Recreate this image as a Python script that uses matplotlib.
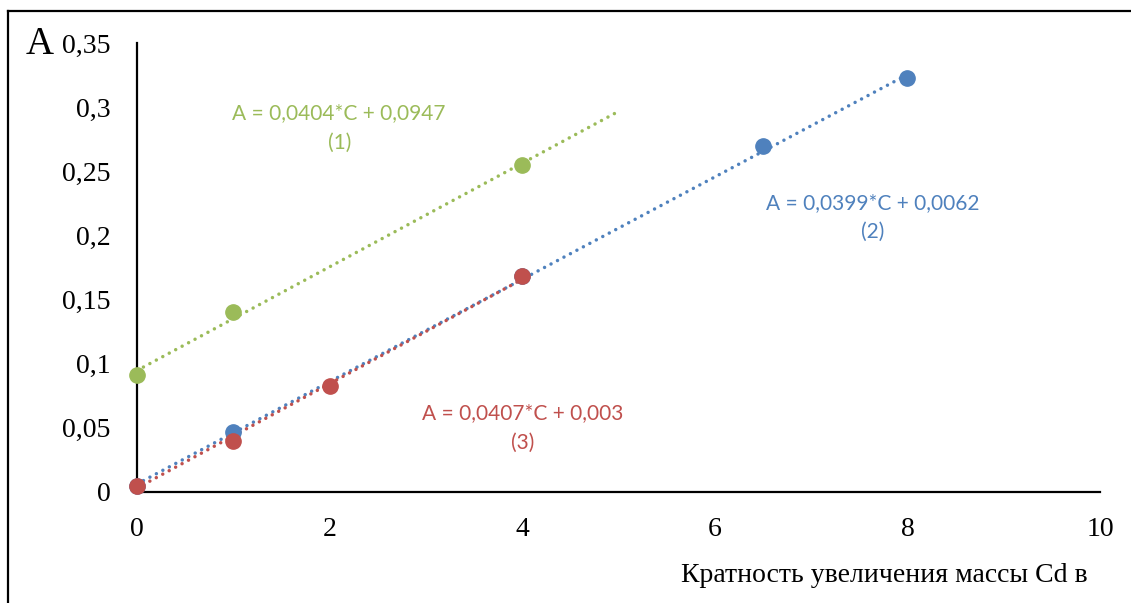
import matplotlib
matplotlib.use("Agg")
import matplotlib.pyplot as plt
from matplotlib.lines import Line2D
import numpy as np

# Measured absorbance A vs. multiplicity of Cd mass increase C
green_x = [0, 1, 4]
green_y = [0.091, 0.140, 0.255]
blue_x = [0, 1, 4, 6.5, 8]
blue_y = [0.005, 0.047, 0.168, 0.270, 0.323]
red_x = [0, 1, 2, 4]
red_y = [0.005, 0.040, 0.083, 0.168]

# Linear trendlines: (slope, intercept, x range)
green_fit = (0.0404, 0.0947, (0, 5))
blue_fit = (0.0399, 0.0062, (0, 8))
red_fit = (0.0407, 0.003, (0, 4))

green_label = "A = 0,0404*C + 0,0947\n(1)"
blue_label = "A = 0,0399*C + 0,0062\n(2)"
red_label = "A = 0,0407*C + 0,003\n(3)"

x_ticks = [0, 2, 4, 6, 8, 10]
y_ticks = [0, 0.05, 0.1, 0.15, 0.2, 0.25, 0.3, 0.35]
y_tick_labels = ["0", "0,05", "0,1", "0,15", "0,2", "0,25", "0,3", "0,35"]
x_title = "Кратность увеличения массы Cd в"
y_title = "A"

GREEN = "#9BBB59"
BLUE = "#4F81BD"
RED = "#C0504D"

serif = "Liberation Serif"
sans = "Lato"

fig = plt.figure(figsize=(11.31, 6.03), dpi=100)
ax = fig.add_axes([0.1211, 0.1841, 0.8516, 0.7446])

dot_style = dict(linestyle=(0, (0.01, 2.1)), dash_capstyle="round", linewidth=2.5)

for (xs, ys, fit, color) in [
    (green_x, green_y, green_fit, GREEN),
    (blue_x, blue_y, blue_fit, BLUE),
    (red_x, red_y, red_fit, RED),
]:
    k, b, (x0, x1) = fit
    fx = np.array([x0, x1], dtype=float)
    ax.plot(xs, ys, "o", color=color, markersize=11, clip_on=False, zorder=3)
    ax.plot(fx, k * fx + b, color=color, clip_on=False, zorder=2, **dot_style)

ax.set_xlim(0, 10)
ax.set_ylim(0, 0.35)
ax.set_xticks(x_ticks)
ax.set_xticklabels([str(t) for t in x_ticks])
ax.set_yticks(y_ticks)
ax.set_yticklabels(y_tick_labels)
ax.tick_params(axis="both", length=0, labelsize=20)
ax.tick_params(axis="y", pad=19)
ax.tick_params(axis="x", pad=18)
for lbl in ax.get_xticklabels() + ax.get_yticklabels():
    lbl.set_fontfamily(serif)

for side in ("top", "right"):
    ax.spines[side].set_visible(False)
for side in ("left", "bottom"):
    ax.spines[side].set_linewidth(1.6)
    ax.spines[side].set_color("black")

# Trendline equations
eq_style = dict(fontsize=15, family=sans, ha="center", va="center", linespacing=1.6)
ax.text(2.1, 0.284, green_label, color=GREEN, **eq_style)
ax.text(7.64, 0.214, blue_label, color=BLUE, **eq_style)
ax.text(4.0, 0.050, red_label, color=RED, **eq_style)

# Axis titles
fig.text(1088 / 1131, 1 - 576 / 603, x_title, ha="right", va="center",
         fontsize=20, family=serif)
fig.text(40 / 1131, 1 - 45 / 603, y_title, ha="center", va="center",
         fontsize=28, family=serif)

# Outer frame (top and left edges)
fig.add_artist(Line2D([8 / 1131, 1.0], [1 - 11 / 603, 1 - 11 / 603],
                      transform=fig.transFigure, color="black", linewidth=1.6))
fig.add_artist(Line2D([8 / 1131, 8 / 1131], [0.0, 1 - 11 / 603],
                      transform=fig.transFigure, color="black", linewidth=1.6))

fig.savefig("out.png", dpi=100, facecolor="white")
